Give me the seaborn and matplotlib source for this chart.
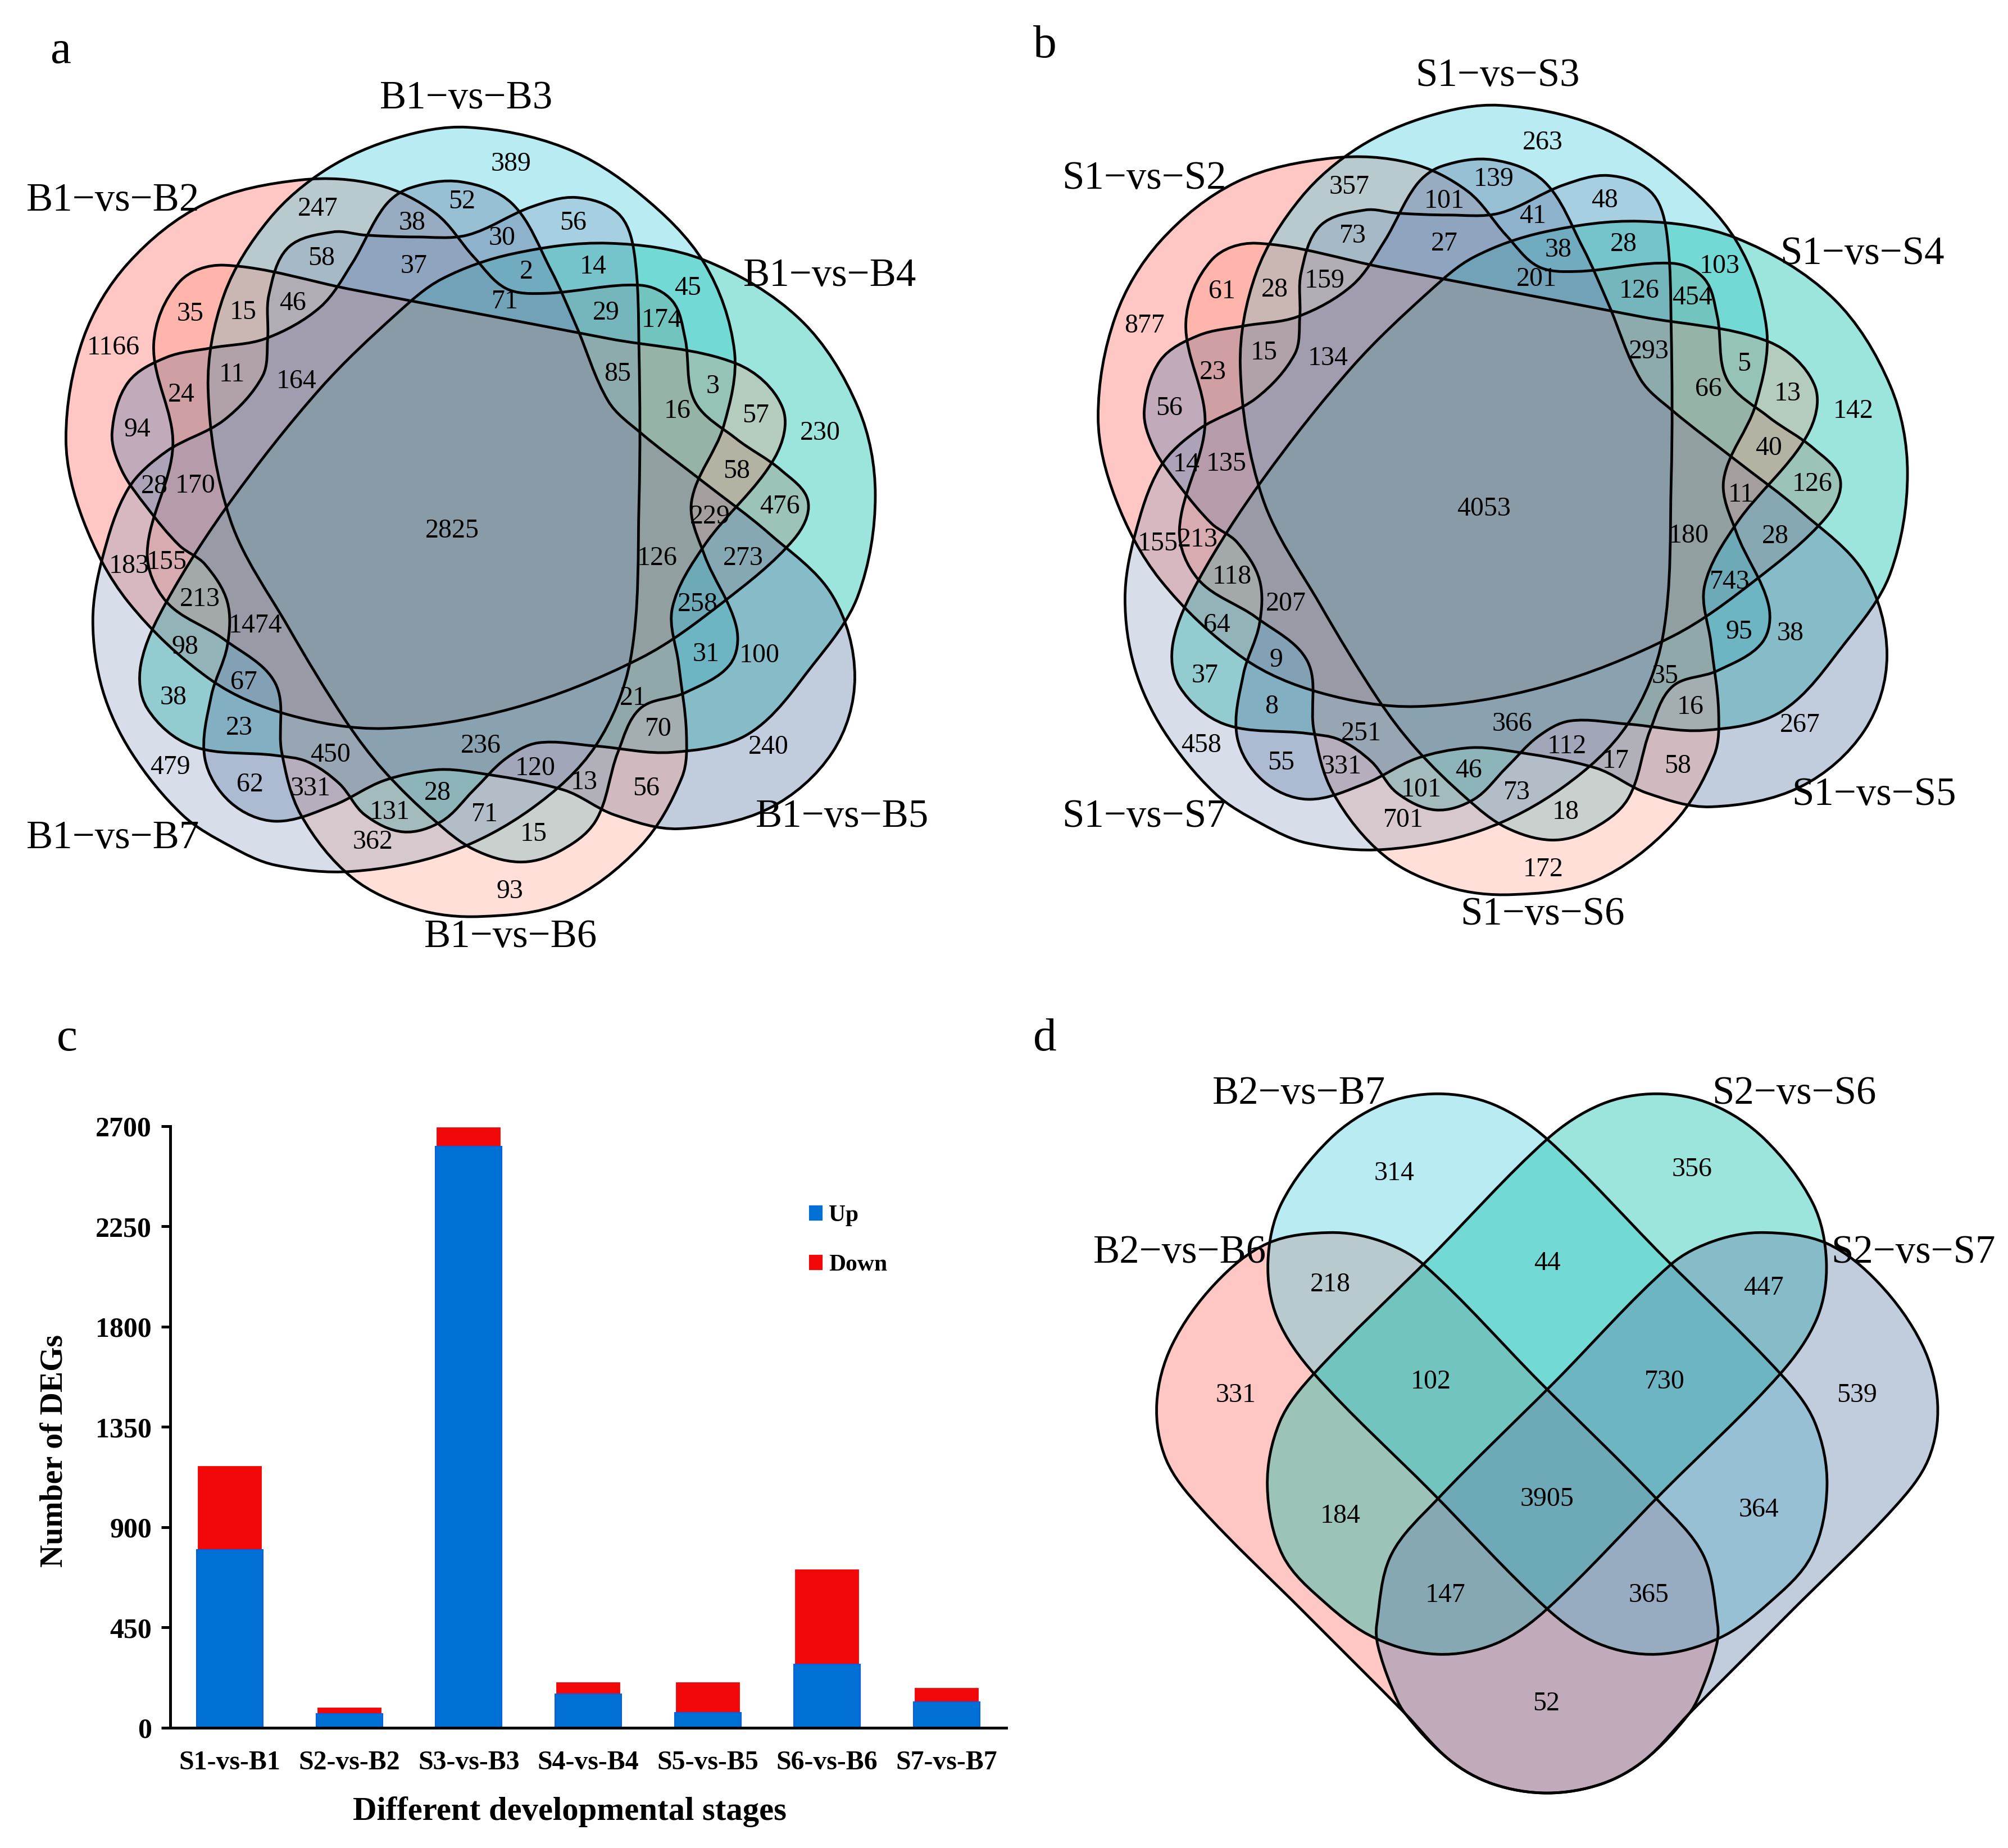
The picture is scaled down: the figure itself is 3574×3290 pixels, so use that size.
import numpy as np
import pandas as pd
import matplotlib
matplotlib.use('Agg')
import matplotlib.pyplot as plt
import seaborn as sns
from matplotlib.patches import PathPatch, Patch
from matplotlib.path import Path

sns.set_style('white')
plt.rcParams['font.family'] = ['Liberation Serif', 'DejaVu Sans']
plt.rcParams['text.color'] = 'black'
plt.rcParams['axes.labelcolor'] = 'black'
plt.rcParams['xtick.color'] = 'black'
plt.rcParams['ytick.color'] = 'black'

# panel c
stages = ['S1-vs-B1', 'S2-vs-B2', 'S3-vs-B3', 'S4-vs-B4', 'S5-vs-B5', 'S6-vs-B6', 'S7-vs-B7']
up = [800, 64, 2610, 151, 69, 285, 116]
down = [380, 33, 90, 59, 141, 431, 67]
yticks = [0, 450, 900, 1350, 1800, 2250, 2700]

# panel a
a_names = ['B1−vs−B2', 'B1−vs−B3', 'B1−vs−B4', 'B1−vs−B5', 'B1−vs−B6', 'B1−vs−B7']
a_counts = [389, 247, 52, 38, 56, 30, 58, 37, 2, 14, 45, 71, 35, 15, 46, 29, 174, 1166, 11, 164, 85, 3,
            24, 16, 57, 230, 94, 58, 28, 170, 476, 229, 2825, 126, 273, 183, 155, 213, 258, 1474, 98,
            31, 100, 67, 38, 21, 70, 23, 236, 240, 450, 120, 479, 13, 62, 331, 56, 28, 131, 71, 15, 362, 93]
# panel b
b_names = ['S1−vs−S2', 'S1−vs−S3', 'S1−vs−S4', 'S1−vs−S5', 'S1−vs−S6', 'S1−vs−S7']
b_counts = [263, 357, 139, 101, 48, 41, 73, 27, 38, 28, 103, 201, 61, 28, 159, 126, 454, 877, 15, 134, 293, 5,
            23, 66, 13, 142, 56, 40, 14, 135, 126, 11, 4053, 180, 28, 155, 213, 118, 743, 207, 64,
            95, 38, 9, 37, 35, 16, 8, 366, 267, 251, 112, 458, 17, 55, 331, 58, 46, 101, 73, 18, 701, 172]
# panel d
d_names = ['B2−vs−B6', 'B2−vs−B7', 'S2−vs−S6', 'S2−vs−S7']
d_counts = [314, 356, 218, 44, 447, 331, 102, 730, 539, 184, 3905, 364, 147, 365, 52]

# where the texts sit, in crop units
a_name_xy = [(176, 320), (728, 157), (1296, 440), (1315, 1303), (798, 1495), (176, 1337)]
b_name_xy = [(219, 285), (771, 121), (1340, 405), (1359, 1268), (841, 1459), (219, 1303)]
d_name_xy = [(227, 453), (420, 155), (1222, 155), (1415, 453)]
a_xy = [(798, 262), (496, 333), (721, 322), (644, 356), (895, 356), (784, 380), (502, 412), (646, 425), (822, 434),
        (926, 426), (1074, 460), (789, 481), (297, 501), (380, 498), (457, 484), (947, 499), (1033, 511), (177, 555),
        (362, 598), (463, 608), (964, 597), (1113, 616), (283, 630), (1058, 656), (1180, 663), (1281, 691), (214, 685),
        (1150, 752), (241, 776), (305, 775), (1218, 808), (1109, 824), (706, 847), (1026, 891), (1161, 891), (202, 903),
        (260, 897), (312, 956), (1090, 964), (399, 998), (289, 1032), (1103, 1044), (1186, 1046), (381, 1089),
        (271, 1113), (989, 1114), (1028, 1163), (374, 1161), (751, 1190), (1200, 1192), (516, 1204), (836, 1226),
        (266, 1224), (912, 1248), (390, 1252), (485, 1258), (1009, 1258), (683, 1265), (609, 1296), (757, 1299),
        (833, 1331), (582, 1343), (796, 1422)]
b_xy = [(841, 228), (539, 298), (765, 286), (688, 321), (938, 320), (826, 345), (545, 376), (688, 389), (866, 399),
        (968, 390), (1118, 425), (832, 445), (340, 465), (423, 462), (501, 448), (992, 464), (1075, 475), (219, 520),
        (406, 563), (506, 572), (1007, 561), (1156, 581), (326, 594), (1100, 621), (1224, 628), (1326, 656), (258, 651),
        (1194, 715), (285, 741), (347, 740), (1262, 772), (1151, 789), (749, 812), (1069, 855), (1205, 856), (240, 867),
        (303, 861), (356, 920), (1133, 928), (440, 963), (332, 997), (1148, 1008), (1228, 1011), (425, 1053),
        (314, 1078), (1032, 1079), (1072, 1128), (418, 1127), (794, 1155), (1243, 1157), (558, 1170), (879, 1191),
        (308, 1189), (955, 1214), (433, 1217), (527, 1223), (1052, 1222), (726, 1229), (652, 1260), (801, 1264),
        (877, 1296), (624, 1308), (842, 1387)]
d_xy = [(574, 304), (1056, 297), (471, 513), (822, 473), (1172, 519), (318, 720), (634, 695), (1012, 695), (1323, 720),
        (487, 946), (822, 915), (1165, 934), (657, 1094), (986, 1094), (820, 1298)]

# six set outlines (panel b is the same drawing shifted)
pink = [(470, 287), (590, 295), (680, 340), (740, 410), (790, 460), (850, 468), (1000, 455), (1050, 480), (1070, 540),
        (1085, 640), (1150, 700), (1220, 750), (1262, 800), (1240, 860), (1130, 960), (1000, 1050), (800, 1130),
        (600, 1162), (450, 1140), (330, 1085), (200, 960), (130, 830), (103, 700), (130, 540), (200, 420), (320, 325)]
cyan = [(730, 203), (880, 235), (1000, 310), (1100, 420), (1147, 560), (1130, 680), (1080, 800), (1100, 885),
        (1150, 1000), (1140, 1060), (1070, 1105), (1000, 1130), (965, 1200), (930, 1310), (870, 1360), (810, 1375),
        (740, 1355), (680, 1310), (600, 1230), (540, 1150), (450, 1000), (360, 830), (325, 620), (350, 470), (420, 350),
        (510, 270), (620, 220)]
teal = [(800, 405), (950, 388), (1100, 415), (1250, 510), (1340, 650), (1367, 790), (1340, 950), (1270, 1060),
        (1170, 1170), (1050, 1200), (930, 1190), (840, 1185), (790, 1210), (740, 1260), (690, 1310), (630, 1327),
        (570, 1300), (530, 1250), (480, 1215), (430, 1205), (300, 1190), (230, 1130), (220, 1060), (260, 960),
        (360, 800), (500, 620), (620, 500), (690, 445)]
slate = [(1000, 690), (1100, 770), (1200, 850), (1300, 950), (1335, 1080), (1300, 1200), (1200, 1290), (1060, 1322),
         (960, 1300), (880, 1260), (740, 1232), (680, 1228), (600, 1245), (520, 1285), (430, 1310), (360, 1280),
         (320, 1210), (330, 1110), (355, 1030), (355, 960), (320, 900), (280, 870), (230, 810), (190, 750), (175, 690),
         (200, 610), (260, 570), (330, 555), (415, 540), (500, 490), (550, 420), (600, 330), (640, 300), (720, 290),
         (800, 325), (860, 430), (900, 520), (950, 640)]
salmon = [(750, 1462), (880, 1440), (1000, 1350), (1065, 1240), (1072, 1170), (1060, 1060), (1050, 970), (1100, 870),
          (1210, 730), (1222, 650), (1150, 580), (950, 540), (750, 501), (550, 462), (350, 423), (280, 450), (240, 550),
          (270, 710), (230, 880), (260, 960), (350, 1020), (430, 1090), (440, 1200), (470, 1300), (550, 1400), (650, 1450)]
grey = [(160, 890), (145, 990), (160, 1100), (205, 1200), (285, 1300), (360, 1350), (430, 1380), (550, 1390), (700, 1360),
        (830, 1290), (930, 1190), (985, 1050), (998, 800), (998, 560), (990, 400), (965, 340), (900, 315), (830, 330),
        (730, 375), (650, 378), (570, 375), (520, 370), (450, 395), (420, 470), (418, 540), (410, 600), (350, 670),
        (260, 720), (200, 780)]
# panel d, the other two are mirrored
d_pink = [(470, 415), (550, 430), (622, 475), (810, 695), (1000, 915), (1075, 1020), (1098, 1150), (1096, 1189),
          (1075, 1263), (1052, 1316), (980, 1403), (910, 1448), (822, 1465), (734, 1448), (664, 1403), (592, 1316),
          (430, 1128), (260, 930), (205, 840), (190, 735), (215, 625), (285, 510), (370, 435)]
d_cyan = [(645, 155), (735, 175), (822, 240), (1010, 460), (1200, 680), (1255, 770), (1275, 890), (1250, 1020),
          (1180, 1110), (1100, 1175), (1000, 1205), (905, 1185), (822, 1120), (634, 900), (445, 680), (385, 575),
          (370, 470), (392, 360), (470, 240), (555, 175)]

# face colours with their alpha
col_pink = (1.0, 0.46, 0.42, 0.4)
col_cyan = (0.32, 0.81, 0.88, 0.4)
col_teal = (0.03, 0.75, 0.66, 0.4)
col_slate = (0.40, 0.50, 0.67, 0.4)
col_salmon = (1.0, 0.51, 0.40, 0.25)
col_grey = (0.49, 0.58, 0.73, 0.3)


def closed_path(pts):
    p = np.array(pts, dtype=float)
    n = len(p)
    tang = np.roll(p, -1, axis=0) - np.roll(p, 1, axis=0)
    tang = tang / np.linalg.norm(tang, axis=1, keepdims=True)
    verts = [p[0]]
    codes = [Path.MOVETO]
    for i in range(n):
        j = (i + 1) % n
        d = np.linalg.norm(p[j] - p[i])
        verts += [p[i] + tang[i] * d / 3, p[j] - tang[j] * d / 3, p[j]]
        codes += [Path.CURVE4] * 3
    return Path(np.array(verts), codes)


def draw_venn(ax, shapes, colors, ox, oy, sx, sy):
    for pts, c in zip(shapes, colors):
        xy = [(ox + x * sx, oy + y * sy) for x, y in pts]
        ax.add_patch(PathPatch(closed_path(xy), facecolor=c, edgecolor='none'))
    for pts in shapes:
        xy = [(ox + x * sx, oy + y * sy) for x, y in pts]
        ax.add_patch(PathPatch(closed_path(xy), facecolor='none', edgecolor='black', lw=1.15))


def put_texts(ax, names, name_xy, counts, xy, ox, oy, sx, sy):
    for name, (x, y) in zip(names, name_xy):
        ax.text(ox + x * sx, oy + y * sy, name, fontsize=17, ha='center', va='center')
    for n, (x, y) in zip(counts, xy):
        ax.text(ox + x * sx, oy + y * sy, str(n), fontsize=11.5, ha='center', va='center')


fig = plt.figure(figsize=(3574.01 / 300, 3290.01 / 300))
canvas = fig.add_axes([0, 0, 1, 1])
canvas.set_xlim(0, 3574)
canvas.set_ylim(3290, 0)
canvas.axis('off')

sx, sy = 1787 / 1568, 1750 / 1568
shapes = [pink, cyan, teal, slate, salmon, grey]
colors = [col_pink, col_cyan, col_teal, col_slate, col_salmon, col_grey]
draw_venn(canvas, shapes, colors, 0, 0, sx, sy)
put_texts(canvas, a_names, a_name_xy, a_counts, a_xy, 0, 0, sx, sy)

# b is a's drawing moved over and up
draw_venn(canvas, shapes, colors, 1787 + 44 * sx, -35 * sy, sx, sy)
put_texts(canvas, b_names, b_name_xy, b_counts, b_xy, 1787, 0, sx, sy)

# d
dx, dy = 1724 / 1568, 1490 / 1568
mirror = lambda pts: [(1644 - x, y) for x, y in pts]
draw_venn(canvas, [d_pink, d_cyan, mirror(d_cyan), mirror(d_pink)],
          [col_pink, col_cyan, col_teal, col_slate], 1850, 1800, dx, dy)
put_texts(canvas, d_names, d_name_xy, d_counts, d_xy, 1850, 1800, dx, dy)

for letter, x, y in [('a', 108, 92), ('b', 1860, 82), ('c', 119, 1850), ('d', 1860, 1850)]:
    canvas.text(x, y, letter, fontsize=20, ha='center', va='center')

# bar chart
df = pd.DataFrame({'stage': stages, 'up': up, 'down': down})
df['total'] = df['up'] + df['down']
ax = fig.add_axes([303 / 3574, 1 - 3076 / 3290, (1791 - 303) / 3574, (3076 - 2005) / 3290])
sns.barplot(data=df, x='stage', y='total', color='#F20808', saturation=1, width=0.555, ax=ax)
sns.barplot(data=df, x='stage', y='up', color='#0070D4', saturation=1, width=0.555,
            edgecolor='#0A5FE0', linewidth=0.5, ax=ax)
ax.set_xlim(-0.5, 6.5)
ax.set_ylim(0, 2700)
ax.set_yticks(yticks)
ax.patch.set_alpha(0)
sns.despine(ax=ax)
for s in ['left', 'bottom']:
    ax.spines[s].set_linewidth(1.2)
    ax.spines[s].set_color('black')
ax.tick_params(axis='y', left=True, length=3.9, width=1.2, pad=4, labelsize=12)
ax.tick_params(axis='x', bottom=False, pad=6, labelsize=11.5)
for t in ax.get_xticklabels() + ax.get_yticklabels():
    t.set_fontweight('bold')
ax.set_xlabel('Different developmental stages', fontsize=14.1, fontweight='bold')
ax.set_ylabel('Number of DEGs', fontsize=13.4, fontweight='bold')
ax.xaxis.set_label_coords(0.478, -0.114)
ax.yaxis.set_label_coords(-0.121, 0.46)
ax.legend(handles=[Patch(color='#0070D4', label='Up'), Patch(color='#F20808', label='Down')],
          loc='upper left', bbox_to_anchor=(0.74, 0.904), frameon=False, prop={'weight': 'bold', 'size': 10},
          handlelength=0.5, handleheight=0.5, handletextpad=0.3, labelspacing=1.2)

fig.savefig('out.png', dpi=300)
